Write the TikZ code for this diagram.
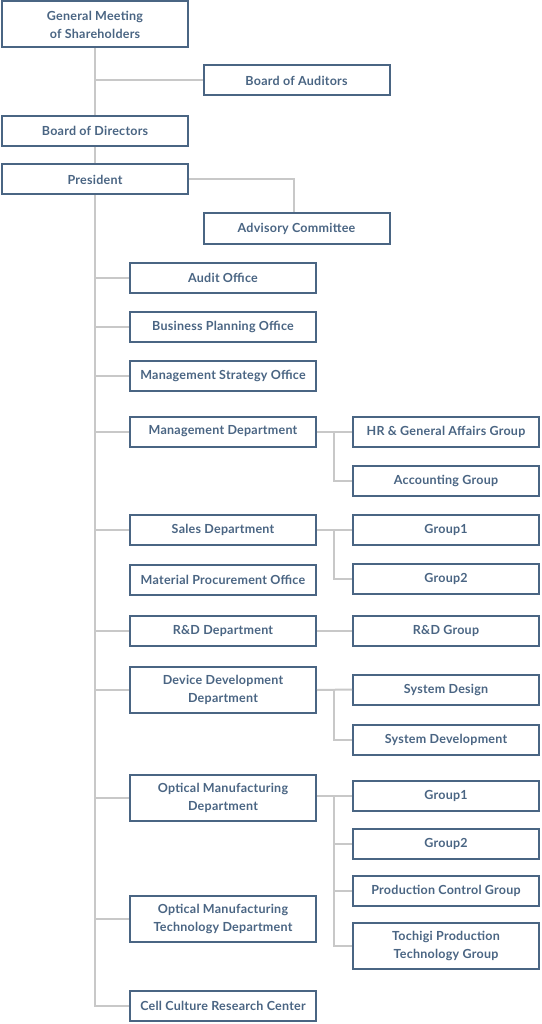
\documentclass[tikz,border=0pt]{standalone}
\usepackage{fontspec}
\setmainfont{Lato}[LetterSpace=2]
\usetikzlibrary{calc}
\definecolor{boxblue}{HTML}{4A6583}
\definecolor{linegray}{HTML}{C8C8C8}

\begin{document}
\begin{tikzpicture}[x=1pt,y=-1pt,
    unit/.style={draw=boxblue,line width=2pt,fill=white,text=boxblue,
      font=\bfseries\fontsize{12.5}{18}\selectfont,align=center,
      minimum width=186pt,minimum height=30pt,inner sep=0pt},
    tall/.style={minimum height=46pt},
    link/.style={draw=linegray,line width=2pt}]
    \useasboundingbox[fill=white] (0,0) rectangle (541,1024);
    % top: shareholders, directors, president
    \node[unit,tall] (gms) at (95,24.5) {General Meeting\\of Shareholders};
    \node[unit] (auditors) at (296.5,80.5) {Board of Auditors};
    \node[unit] (bod) at (95,131) {Board of Directors};
    \node[unit] (pres) at (95,179.5) {President};
    \node[unit] (advisory) at (296.5,228.5) {Advisory Committee};
    % offices and departments
    \node[unit] (audit) at (223,277.5) {Audit Office};
    \node[unit] (bpo) at (223,326.5) {Business Planning Office};
    \node[unit] (mso) at (223,376) {Management Strategy Office};
    \node[unit] (mgmt) at (223,431.5) {Management Department};
    \node[unit] (sales) at (223,529.5) {Sales Department};
    \node[unit] (mpo) at (223,579.5) {Material Procurement Office};
    \node[unit] (rnd) at (223,630.5) {R\&D Department};
    \node[unit,tall] (device) at (223,690) {Device Development\\Department};
    \node[unit,tall] (optical) at (223,798) {Optical Manufacturing\\Department};
    \node[unit,tall] (omt) at (223,919) {Optical Manufacturing\\Technology Department};
    \node[unit] (cell) at (223,1006) {Cell Culture Research Center};
    % groups
    \node[unit] (hr) at (446,431.5) {HR \& General Affairs Group};
    \node[unit] (acct) at (446,480.5) {Accounting Group};
    \node[unit] (sg1) at (446,529.5) {Group1};
    \node[unit] (sg2) at (446,578.5) {Group2};
    \node[unit] (rndg) at (446,630.5) {R\&D Group};
    \node[unit] (sysdes) at (446,689.5) {System Design};
    \node[unit] (sysdev) at (446,739.5) {System Development};
    \node[unit] (og1) at (446,795.5) {Group1};
    \node[unit] (og2) at (446,843.5) {Group2};
    \node[unit] (pcg) at (446,890.5) {Production Control Group};
    \node[unit,tall] (tochigi) at (446,945.5) {Tochigi Production\\Technology Group};
    % trunk
    \draw[link] (gms) -- (bod);
    \draw[link] (bod) -- (pres);
    \draw[link] (pres.south) |- (cell.west);
    \draw[link] (gms.south |- auditors.west) -- (auditors.west);
    \draw[link] (pres.east) -| ($(advisory.north)+(-3,0)$);
    \foreach \u in {audit,bpo,mso,mgmt,sales,rnd,device,optical,omt}
      \draw[link] (pres.south |- \u.west) -- (\u.west);
    % branches to groups
    \draw[link] (mgmt.east) -- (hr.west);
    \draw[link] ($(mgmt.east)+(17,0)$) |- (acct.west);
    \draw[link] (sales.east) -- (sg1.west);
    \draw[link] ($(sales.east)+(17,0)$) |- (sg2.west);
    \draw[link] (rnd.east) -- (rndg.west);
    \draw[link] (device.east) -- (sysdes.west);
    \draw[link] ($(device.east)+(17,0)$) |- (sysdev.west);
    \draw[link] (optical.east |- og1.west) -- (og1.west);
    \foreach \g in {og2,pcg,tochigi}
      \draw[link] ($(optical.east |- og1.west)+(17,0)$) |- (\g.west);
\end{tikzpicture}
\end{document}
